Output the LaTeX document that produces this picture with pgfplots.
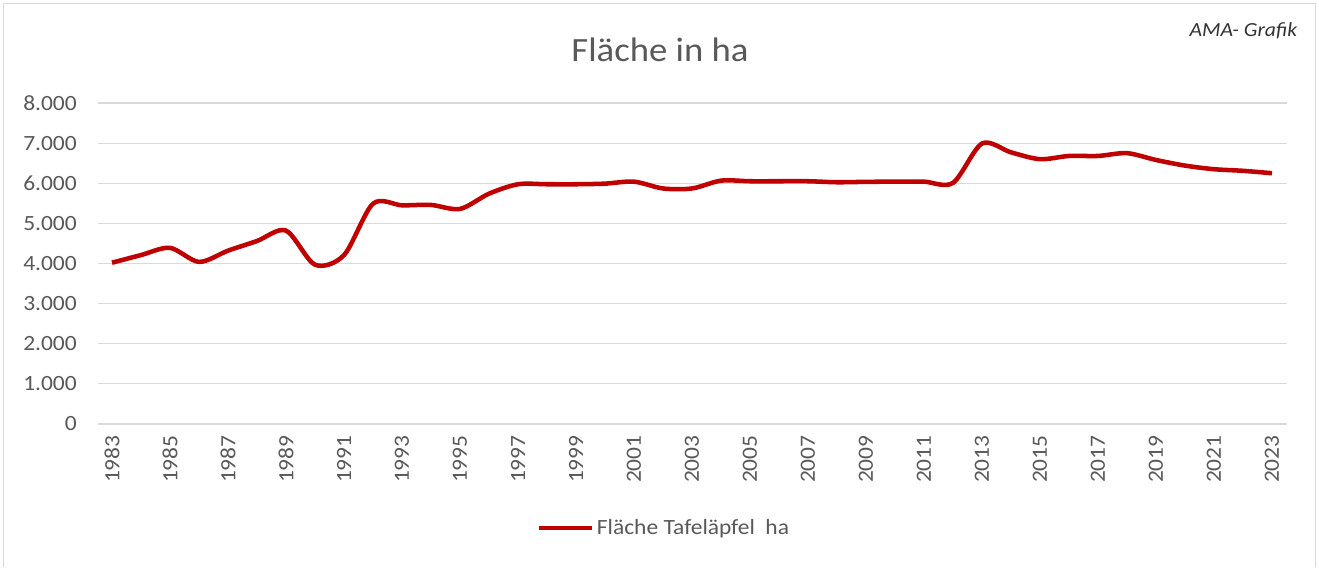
\documentclass[border=0pt]{standalone}
\usepackage{pgfplots}
\pgfplotsset{compat=1.18}
\usepackage{fontspec}
\setmainfont{Carlito}[FakeStretch=1.08]
\definecolor{LineRed}{HTML}{C00000}
\definecolor{GridGrey}{HTML}{D9D9D9}
\definecolor{TextGrey}{HTML}{595959}
\begin{document}
\begin{tikzpicture}
\fill[white] (0,0) rectangle (989.25pt,423pt);
\draw[GridGrey,line width=1pt] (2.6pt,-2pt) -- (2.6pt,420.4pt) -- (986.6pt,420.4pt) -- (986.6pt,-2pt);
\node[text=TextGrey,font=\fontsize{25.5}{30}\selectfont] at (495pt,386pt) {Fläche in ha};
\node[anchor=east,text=black!80,font=\fontsize{15}{18}\selectfont\itshape] at (976.5pt,400pt) {AMA- Grafik};
\begin{axis}[
  at={(73.125pt,105pt)},anchor=south west,
  scale only axis,width=891.75pt,height=240.75pt,
  xmin=1982.5,xmax=2023.5,ymin=0,ymax=8000,
  xtick={1983,1985,...,2023},ytick={0,1000,...,8000},
  ymajorgrids=true,major grid style={draw=GridGrey,line width=0.8pt},
  axis line style={draw=none},tick style={draw=none},
  scaled y ticks=false,
  /pgf/number format/assume math mode=true,
  tick label style={text=TextGrey,font=\fontsize{16.3}{19}\selectfont},
  x tick label style={rotate=90,anchor=east,/pgf/number format/1000 sep={}},
  xticklabel shift=5pt,
  y tick label style={/pgf/number format/1000 sep={.},xshift=-12pt},
  legend style={at={(0.4765,-0.324)},anchor=center,draw=none,fill=none,
    font=\fontsize{16.3}{19}\selectfont,text=TextGrey},
  legend image code/.code={\draw[#1] (0pt,0pt) -- (40pt,0pt);},
  clip=false,
]
\addplot[LineRed,line width=3.4pt,smooth,tension=0.5] coordinates {
(1983,4020)(1984,4210)(1985,4390)(1986,4040)(1987,4320)(1988,4560)(1989,4820)
(1990,3970)(1991,4210)(1992,5490)(1993,5450)(1994,5460)(1995,5360)(1996,5740)
(1997,5975)(1998,5975)(1999,5975)(2000,5990)(2001,6040)(2002,5870)(2003,5870)
(2004,6065)(2005,6050)(2006,6050)(2007,6050)(2008,6025)(2009,6035)(2010,6040)
(2011,6040)(2012,6010)(2013,6990)(2014,6770)(2015,6600)(2016,6680)(2017,6680)
(2018,6750)(2019,6580)(2020,6440)(2021,6350)(2022,6310)(2023,6250)};
\addlegendentry{Fläche Tafeläpfel\ \ ha}
\end{axis}
\end{tikzpicture}
\end{document}
